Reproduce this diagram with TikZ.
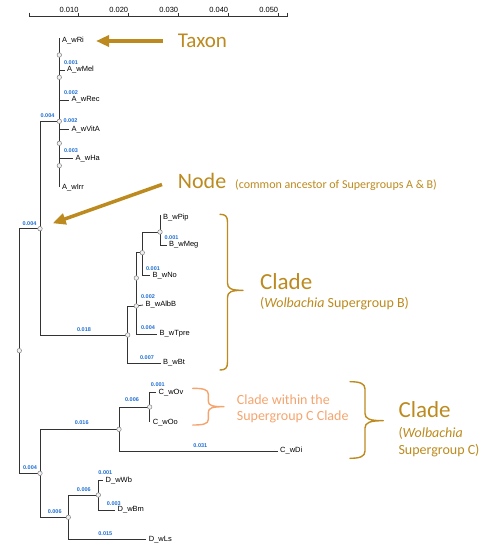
\documentclass[tikz,border=0pt]{standalone}
\usepackage{fontspec}
\setmainfont{Liberation Sans}
\newfontfamily\calib{Carlito}
\usetikzlibrary{arrows.meta}
\definecolor{gold}{HTML}{BC8A1E}
\definecolor{peach}{HTML}{F5A46E}
\definecolor{blen}{HTML}{1E6ED2}
\definecolor{branch}{HTML}{333333}
\begin{document}
\begin{tikzpicture}[x=1pt,y=-1pt,
  br/.style={draw=branch, line width=0.8pt},
  nd/.style={circle, draw=gray, fill=gray!12, line width=0.5pt, inner sep=0pt, minimum size=4.5pt},
  tx/.style={font=\fontsize{7.5}{8}\selectfont, anchor=west, inner sep=0pt, text=black},
  bl/.style={font=\bfseries\fontsize{5.5}{6}\selectfont, text=blen, inner sep=0pt},
  sc/.style={font=\fontsize{7.5}{8}\selectfont, inner sep=0pt, anchor=east},
  big/.style={font=\calib\fontsize{22}{24}\selectfont, inner sep=0pt, anchor=west},
  mid/.style={font=\calib\fontsize{14}{16}\selectfont, inner sep=0pt, anchor=west},
  garrow/.style={draw=gold, line width=3.5pt, -{Triangle[length=13pt,width=11pt]}},
  brace/.style={line width=1.4pt, line cap=round, line join=round}
]
\useasboundingbox (0,0) rectangle (489,550);

% ---------- scale bar ----------
\coordinate (s0) at (29,16);
\coordinate (s1) at (287,16);
\draw[branch, line width=0.6pt] (s0) -- (s1);
\foreach \x/\l in {78.7/0.010,128.3/0.020,178.3/0.030,228.3/0.040,278.3/0.050}{
  \draw[branch, line width=0.6pt] (\x,12.5) -- (\x,17);
  \node[sc] (sl\l) at (\x,9.5) {\l};
}
\draw[branch, line width=0.6pt] (29,12.5) -- (29,17);
\draw[branch, line width=0.6pt] (287,12.5) -- (287,17);

% ---------- internal coordinates ----------
\coordinate (R) at (19.3,350.7);
\coordinate (AB) at (40,228.7);
\coordinate (CD) at (40,473.3);
\coordinate (Aj) at (59.3,121.3);
\coordinate (Atop) at (59.3,38);
\coordinate (Abot) at (59.3,187);
\coordinate (B) at (127.7,335);
\coordinate (B2) at (136.3,306);
\coordinate (B3) at (136.3,278);
\coordinate (B4) at (142.3,252.7);
\coordinate (B5) at (160,232);
\coordinate (Ptop) at (160,215);
\coordinate (C) at (119,429.3);
\coordinate (C2) at (149.7,407);
\coordinate (Oobot) at (149.7,421.7);
\coordinate (D) at (68.3,517.3);
\coordinate (D2) at (98.3,495);

% ---------- taxa ----------
\node[tx] (tRi) at (62,41) {A\_wRi};
\node[tx] (tMel) at (67,70) {A\_wMel};
\node[tx] (tRec) at (71.5,100) {A\_wRec};
\node[tx] (tVitA) at (71.5,129.3) {A\_wVitA};
\node[tx] (tHa) at (75.5,158.3) {A\_wHa};
\node[tx] (tIrr) at (62,187.3) {A\_wIrr};
\node[tx] (tPip) at (163,217.3) {B\_wPip};
\node[tx] (tMeg) at (169,245) {B\_wMeg};
\node[tx] (tNo) at (152.5,275.7) {B\_wNo};
\node[tx] (tAlbB) at (145.5,305) {B\_wAlbB};
\node[tx] (tTpre) at (159.5,334) {B\_wTpre};
\node[tx] (tBt) at (163,363) {B\_wBt};
\node[tx] (tOv) at (158.5,392.7) {C\_wOv};
\node[tx] (tOo) at (152.7,422.3) {C\_wOo};
\node[tx] (tDi) at (280,451) {C\_wDi};
\node[tx] (tWb) at (105.5,480.7) {D\_wWb};
\node[tx] (tBm) at (117.5,510) {D\_wBm};
\node[tx] (tLs) at (148.7,539.3) {D\_wLs};

% ---------- branches ----------
\draw[br] (Atop) -- (Abot);
\foreach \t in {tMel,tRec,tVitA,tHa}{
  \draw[br] (Atop |- \t.west) -- ([xshift=-2.5pt]\t.west);
}
\draw[br] (R) |- (AB);
\draw[br] (R) |- (CD);
\draw[br] (AB) |- (Aj);
\draw[br] (AB) |- (B);
\draw[br] (B) |- (B2);
\draw[br] (B) |- ([xshift=-2.5pt]tBt.west);
\draw[br] (B2) -- ([xshift=-2.5pt]tAlbB.west);
\draw[br] (B2) |- ([xshift=-2.5pt]tTpre.west);
\draw[br] (B2) |- (B4);
\draw[br] (B4) |- (B5);
\draw[br] (B4) |- ([xshift=-2.5pt]tNo.west);
\draw[br] (B5) -- (Ptop);
\draw[br] (B5) |- ([xshift=-2.5pt]tMeg.west);
\draw[br] (CD) |- (C);
\draw[br] (CD) |- (D);
\draw[br] (C) |- (C2);
\draw[br] (C) |- ([xshift=-2.5pt]tDi.west);
\draw[br] (C2) |- ([xshift=-2.5pt]tOv.west);
\draw[br] (C2) -- (Oobot);
\draw[br] (D) |- (D2);
\draw[br] (D) |- ([xshift=-2.5pt]tLs.west);
\draw[br] (D2) |- ([xshift=-2.5pt]tWb.west);
\draw[br] (D2) |- ([xshift=-2.5pt]tBm.west);

% ---------- branch lengths ----------
\node[bl] (l1) at (71,62.7) {0.001};
\node[bl] (l2) at (71,92.7) {0.002};
\node[bl] (l3) at (47.5,115.7) {0.004};
\node[bl] (l4) at (70.5,121) {0.002};
\node[bl] (l5) at (71,150.7) {0.003};
\node[bl] (l6) at (29.5,223.3) {0.004};
\node[bl] (l7) at (84,329.3) {0.018};
\node[bl] (l8) at (171.5,237.3) {0.001};
\node[bl] (l9) at (153,268.3) {0.001};
\node[bl] (l10) at (148,297) {0.002};
\node[bl] (l11) at (148,327.7) {0.004};
\node[bl] (l12) at (147,357.7) {0.007};
\node[bl] (l13) at (157.8,385) {0.001};
\node[bl] (l14) at (132,399.3) {0.006};
\node[bl] (l15) at (81.7,422.7) {0.016};
\node[bl] (l16) at (200.3,446) {0.031};
\node[bl] (l17) at (30,467.7) {0.004};
\node[bl] (l18) at (105.3,472.3) {0.001};
\node[bl] (l19) at (83.8,490) {0.006};
\node[bl] (l20) at (113.8,503.3) {0.003};
\node[bl] (l21) at (54.7,511.7) {0.006};
\node[bl] (l22) at (105.3,534) {0.015};

% ---------- node circles ----------
\node[nd] (c1) at (59.3,55) {};
\node[nd] (c2) at (59.3,77.3) {};
\node[nd] (c3) at (Aj) {};
\node[nd] (c4) at (59.3,143.3) {};
\node[nd] (c5) at (59.3,165.7) {};
\node[nd] (c6) at (AB) {};
\node[nd] (c7) at (R) {};
\node[nd] (c8) at (B5) {};
\node[nd] (c9) at (B4) {};
\node[nd] (c10) at (B3) {};
\node[nd] (c11) at (B2) {};
\node[nd] (c12) at (B) {};
\node[nd] (c13) at (C2) {};
\node[nd] (c14) at (C) {};
\node[nd] (c15) at (CD) {};
\node[nd] (c16) at (D2) {};
\node[nd] (c17) at (D) {};

% ---------- annotations ----------
\node[big, text=gold, font=\calib\fontsize{21}{24}\selectfont] (taxon) at (177.7,41) {Taxon};
\coordinate (taxtip) at (96,41);
\draw[garrow] ([xshift=-15pt]taxon.west) -- (taxtip);

\node[big, text=gold, anchor=base west] (nodet) at (177.7,188) {Node};
\node[font=\calib\fontsize{12}{14}\selectfont, text=gold, inner sep=0pt, anchor=base west] (nodesub) at (235,188) {(common ancestor of Supergroups A \& B)};
\coordinate (nodestart) at (162,184.5);
\coordinate (nodetip) at (52.7,223.3);
\draw[garrow] (nodestart) -- (nodetip);

% clade B brace
\draw[gold, brace] (220,214.3) .. controls (225.5,214.3) and (227.5,216.5) .. (227.5,222)
  -- (227.5,283) .. controls (227.5,288.5) and (231,290.3) .. (243,290.3)
  .. controls (231,290.3) and (227.5,292) .. (227.5,297.5)
  -- (227.5,362) .. controls (227.5,368) and (225.5,370) .. (220,370);
\node[big, text=gold, font=\calib\fontsize{23}{24}\selectfont] (cladeB) at (260,281.7) {Clade};
\node[mid, text=gold] (cladeBsub) at (260,304) {(\textit{Wolbachia} Supergroup B)};

% clade within C brace
\draw[peach, brace] (192.7,388.3) .. controls (203,388.3) and (208.3,389.5) .. (208.3,394)
  -- (208.3,401) .. controls (208.3,405.5) and (212,406.7) .. (224,406.7)
  .. controls (212,406.7) and (208.3,408) .. (208.3,412.5)
  -- (208.3,419.5) .. controls (208.3,424) and (203,425) .. (192.7,425);
\node[mid, text=peach] (within1) at (236.7,399.3) {Clade within the};
\node[mid, text=peach] (within2) at (236.7,416.7) {Supergroup C Clade};

% clade C brace
\draw[gold, brace] (350,381.7) .. controls (360,381.7) and (365,383.5) .. (365,389)
  -- (365,413.5) .. controls (365,419) and (370,420.7) .. (383.3,420.7)
  .. controls (370,420.7) and (365,422.5) .. (365,428)
  -- (365,451) .. controls (365,456.5) and (360,458.3) .. (350,458.3);
\node[big, text=gold, font=\calib\fontsize{23}{24}\selectfont] (cladeC) at (398.3,410) {Clade};
\node[mid, text=gold] (cladeC1) at (398.3,433.3) {(\textit{Wolbachia}};
\node[mid, text=gold] (cladeC2) at (398.3,451) {Supergroup C)};
\end{tikzpicture}
\end{document}
